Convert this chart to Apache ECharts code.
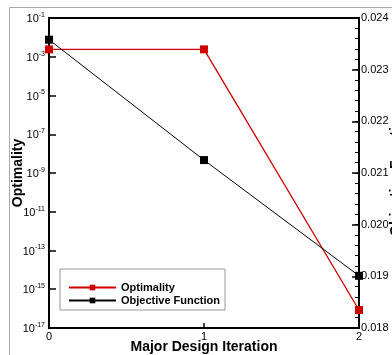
<!DOCTYPE html>
<html>
<head>
<meta charset="utf-8">
<script src="https://cdn.jsdelivr.net/npm/echarts@6/dist/echarts.min.js"></script>
<style>
  html, body { margin: 0; padding: 0; background: #fff; }
  #chart { width: 392px; height: 355px; }
</style>
</head>
<body>
<div id="chart"></div>
<script>
// Convergence history per major design iteration
const iterations = [0, 1, 2];
const optimality = [2.4e-3, 2.4e-3, 8.5e-17];
const objective = [0.02358, 0.02125, 0.01901];
const xTicks = [0, 1, 2];

const FONT = 'Liberation Sans';
const RED = '#d00000';

const chart = echarts.init(document.getElementById('chart'));

chart.setOption({
  animation: false,
  backgroundColor: '#fff',
  grid: {
    left: 49, right: 33, top: 18, bottom: 27,
    outerBoundsMode: 'none',
    containLabel: false,
    show: true, borderColor: '#000', borderWidth: 2
  },
  graphic: [{
    type: 'rect', silent: true, z: -1,
    shape: { x: 9.5, y: 7.5, width: 500, height: 500 },
    style: { fill: 'none', stroke: '#aaa', lineWidth: 1 }
  }],
  legend: {
    orient: 'vertical',
    left: 60, top: 269,
    padding: [13, 5, 4, 8],
    itemWidth: 47, itemHeight: 7, itemGap: 2,
    borderColor: '#999', borderWidth: 1,
    backgroundColor: '#fff',
    textStyle: { fontFamily: FONT, fontWeight: 'bold', fontSize: 11, color: '#000' },
    data: ['Optimality', 'Objective Function']
  },
  xAxis: {
    type: 'value',
    min: xTicks[0], max: xTicks[xTicks.length - 1], interval: 1,
    name: 'Major Design Iteration',
    nameLocation: 'middle', nameGap: 12, nameMoveOverlap: false,
    nameTextStyle: { fontFamily: FONT, fontWeight: 'bold', fontSize: 14, color: '#000' },
    axisLine: { lineStyle: { color: '#000', width: 2 } },
    axisTick: { inside: true, length: 5, lineStyle: { color: '#000', width: 1.5 } },
    axisLabel: { fontFamily: FONT, fontSize: 11, color: '#000', margin: 3 },
    splitLine: { show: false }
  },
  yAxis: [{
    type: 'log', logBase: 10,
    min: 1e-17, max: 1e-1, interval: 2,
    name: 'Optimality',
    nameLocation: 'middle', nameGap: 24, nameMoveOverlap: false,
    nameTextStyle: { fontFamily: FONT, fontWeight: 'bold', fontSize: 14, color: '#000' },
    axisLine: { onZero: false, lineStyle: { color: '#000', width: 2 } },
    axisTick: { inside: true, length: 7, lineStyle: { color: '#000', width: 1.5 } },
    axisLabel: {
      margin: 4,
      formatter: function (v) {
        const e = Math.round(Math.log10(v));
        return '{b|10}{s|' + e + '}';
      },
      rich: {
        b: { fontFamily: FONT, fontSize: 11, color: '#000', verticalAlign: 'bottom' },
        s: { fontFamily: FONT, fontSize: 7, color: '#000', verticalAlign: 'bottom', padding: [0, 0, 6, 0] }
      }
    },
    splitLine: { show: false }
  }, {
    type: 'value', position: 'right',
    min: 0.018, max: 0.024, interval: 0.001,
    name: 'Objective Function',
    nameLocation: 'middle', nameGap: 30, nameRotate: 90, nameMoveOverlap: false,
    nameTextStyle: { fontFamily: FONT, fontWeight: 'bold', fontSize: 14, color: '#000' },
    axisLine: { show: true, onZero: false, lineStyle: { color: '#000', width: 2 } },
    axisTick: { inside: true, length: 7, lineStyle: { color: '#000', width: 1.5 } },
    axisLabel: {
      fontFamily: FONT, fontSize: 11, color: '#000', margin: 2,
      formatter: function (v) { return v.toFixed(3); }
    },
    splitLine: { show: false }
  }, {
    // fine ticks every 0.0002 along the right axis
    type: 'value', position: 'right',
    min: 0.018, max: 0.024, interval: 0.0002,
    axisLine: { show: false, onZero: false },
    axisTick: { show: true, inside: true, length: 4, lineStyle: { color: '#000', width: 1 } },
    axisLabel: { show: false },
    splitLine: { show: false }
  }],
  series: [{
    name: 'Optimality',
    type: 'line',
    yAxisIndex: 0,
    data: iterations.map((x, i) => [x, optimality[i]]),
    symbol: 'rect', symbolSize: 8,
    lineStyle: { color: RED, width: 1.3 },
    itemStyle: { color: RED },
    z: 3
  }, {
    name: 'Objective Function',
    type: 'line',
    yAxisIndex: 1,
    data: iterations.map((x, i) => [x, objective[i]]),
    symbol: 'rect', symbolSize: 8,
    lineStyle: { color: '#000', width: 1 },
    itemStyle: { color: '#000' },
    z: 4
  }]
});
</script>
</body>
</html>
